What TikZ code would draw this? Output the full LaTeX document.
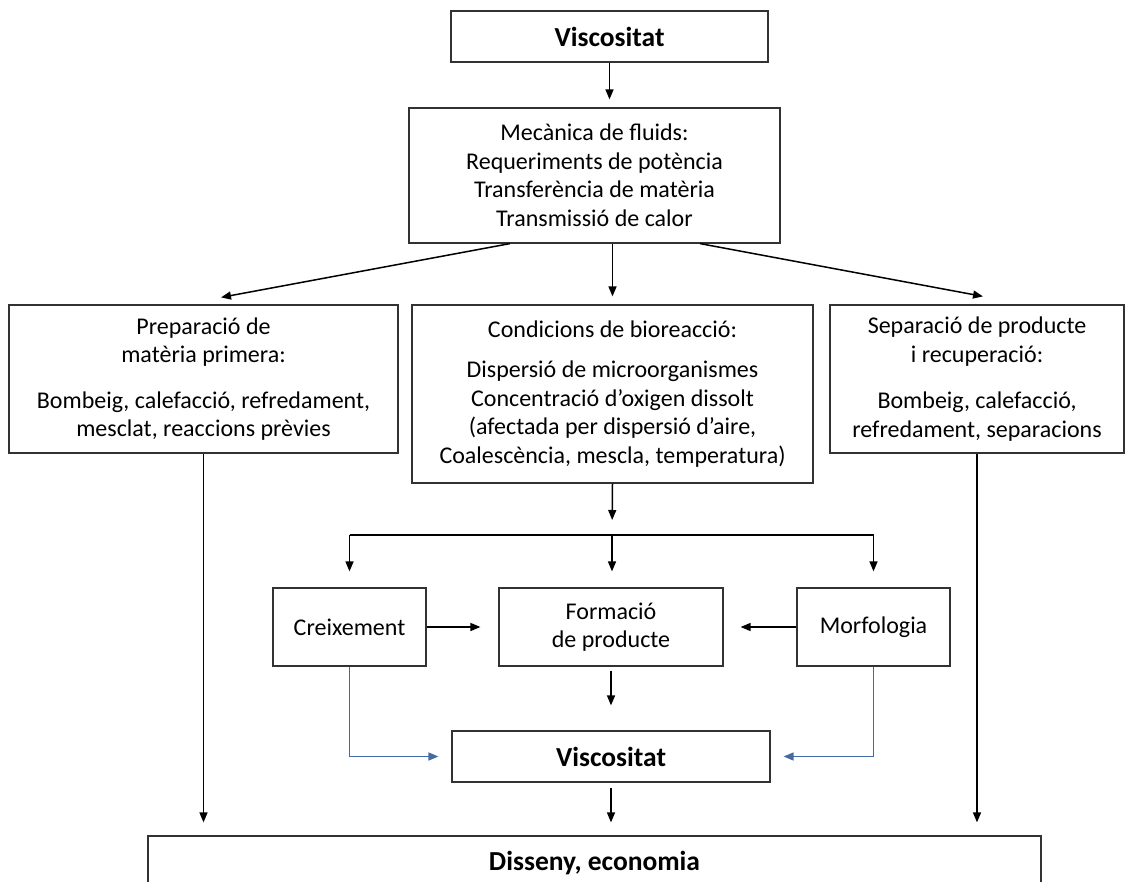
\documentclass[tikz,border=0pt]{standalone}
\usepackage{fontspec}
\setmainfont{Carlito}
\usetikzlibrary{arrows.meta}
\definecolor{bl}{RGB}{68,106,164}
\definecolor{edge}{RGB}{50,50,50}
\begin{document}
\begin{tikzpicture}[x=1pt,y=-1pt,
 box/.style={draw=edge,line width=1.2pt,align=center,inner sep=0pt,font=\fontsize{24}{28.5}\selectfont},
 bbox/.style={box,font=\bfseries\fontsize{27.5}{32}\selectfont},
 arr/.style={line width=1.5pt,-{Triangle[length=10pt,width=8pt]}},
 barr/.style={line width=1.5pt,draw=bl,-{Triangle[length=10pt,width=8pt,fill=bl]}}]
\useasboundingbox (0,0) rectangle (1129,882);
\fill[white] (0,0) rectangle (1129,882);

\node[bbox,minimum width=317,minimum height=51] (v1) at (609.5,36.5) {Viscositat};
\node[box,minimum width=371,minimum height=135] (mec) at (594.5,175.5)
  {Mecànica de fluids:\\ Requeriments de potència\\ Transferència de matèria\\ Transmissió de calor};
\node[box,minimum width=389,minimum height=148] (prep) at (203.5,379)
  {Preparació de\\ matèria primera:\\[17pt] Bombeig, calefacció, refredament,\\ mesclat, reaccions prèvies};
\node[box,minimum width=401,minimum height=178] (cond) at (612.5,394)
  {Condicions de bioreacció:\\[12pt] Dispersió de microorganismes\\ Concentració d’oxigen dissolt\\ (afectada per dispersió d’aire,\\ Coalescència, mescla, temperatura)};
\node[box,minimum width=294,minimum height=148] (sep) at (977,379)
  {Separació de producte\\ i recuperació:\\[18pt] Bombeig, calefacció,\\ refredament, separacions};
\node[box,minimum width=153,minimum height=78] (creix) at (349.5,627) {Creixement};
\node[box,minimum width=224,minimum height=78] (form) at (611,627) {Formació\\ de producte};
\node[box,minimum width=153,minimum height=78] (morf) at (873.5,627) {Morfologia};
\node[bbox,minimum width=318,minimum height=51] (v2) at (611,756.5) {Viscositat};
\node[bbox,minimum width=893,minimum height=54] (dis) at (594.5,863) {Disseny, economia};

\coordinate (sL) at (349.5,535);
\coordinate (sM) at (612,535);
\coordinate (sR) at (873.5,535);

\draw[arr,shorten >=8pt] (v1.south) -- (v1.south |- mec.north);
\draw[arr] ([xshift=-84.5]mec.south) -- ([xshift=17.5,yshift=7]prep.north);
\draw[arr,shorten >=8pt] (mec.south -| cond.north) -- (cond.north);
\draw[arr] ([xshift=105.5]mec.south) -- ([xshift=6,yshift=8]sep.north);
\draw[arr,shorten >=13pt] (prep.south) -- (prep.south |- dis.north);
\draw[arr,shorten >=13pt] (sep.south) -- (sep.south |- dis.north);
\draw[arr,shorten >=15pt] (cond.south) -- (sM);
\draw[line width=1.5pt] (sL) -- (sR);
\draw[arr,shorten >=16pt] (sL) -- (creix.north);
\draw[arr,shorten >=16pt] (sM) -- (sM |- form.north);
\draw[arr,shorten >=16pt] (sR) -- (morf.north);
\draw[arr,shorten >=18pt] (creix.east) -- (form.west);
\draw[arr,shorten >=17pt] (morf.west) -- (form.east);
\draw[arr,shorten <=4pt,shorten >=25pt] (form.south) -- (v2.north);
\draw[arr,shorten <=5pt,shorten >=13pt] (v2.south) -- (v2.south |- dis.north);
\draw[barr,shorten >=13pt] (creix.south) |- (v2.west);
\draw[barr,shorten >=13pt] (morf.south) |- (v2.east);
\end{tikzpicture}
\end{document}
